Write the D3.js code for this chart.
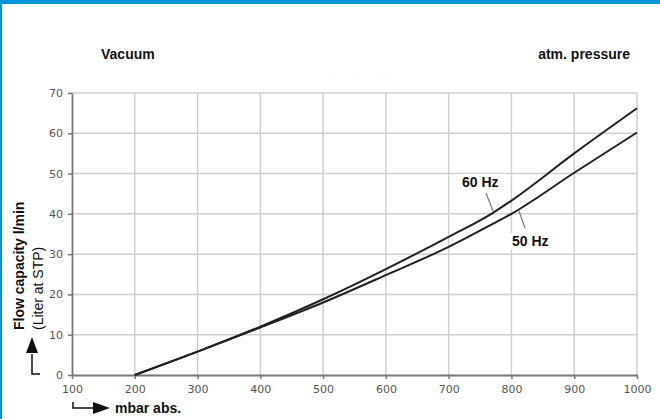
<!DOCTYPE html>
<html>
<head>
<meta charset="utf-8">
<script src="https://cdn.jsdelivr.net/npm/d3@7"></script>
<style>
  html, body { margin: 0; padding: 0; background: #fff; }
  svg { display: block; }
</style>
</head>
<body>
<div id="chart"></div>
<script>
// chart data
var pressure = [200, 300, 400, 500, 600, 700, 770, 800, 900, 1000];
var flow60 = [0, 5.8, 12, 18.8, 26.3, 34.3, 40.2, 43.3, 55, 66.2];
var flow50 = [0, 5.8, 11.8, 18.0, 24.8, 31.8, 37.5, 40, 50.2, 60.2];
var xTicks = [100, 200, 300, 400, 500, 600, 700, 800, 900, 1000];
var yTicks = [0, 10, 20, 30, 40, 50, 60, 70];

var width = 660, height = 419;

var svg = d3.select("#chart")
  .append("svg")
  .attr("width", width)
  .attr("height", height);

// blue frame
svg.append("rect").attr("x", 0).attr("y", 0).attr("width", width).attr("height", 4).attr("fill", "#0095da");
svg.append("rect").attr("x", 0).attr("y", 0).attr("width", 2).attr("height", height).attr("fill", "#0095da");

var x = d3.scaleLinear().domain([100, 1000]).range([72, 637]);
var y = d3.scaleLinear().domain([0, 70]).range([375, 93]);

// headers
svg.append("text").attr("x", 101).attr("y", 59)
  .attr("font-family", "Arial, 'Liberation Sans', sans-serif").attr("font-weight", "bold")
  .attr("font-size", 14).attr("fill", "#111").text("Vacuum");
svg.append("text").attr("x", 630).attr("y", 59).attr("text-anchor", "end")
  .attr("font-family", "Arial, 'Liberation Sans', sans-serif").attr("font-weight", "bold")
  .attr("font-size", 14).attr("fill", "#111").text("atm. pressure");

// faint remnant text above plot
svg.append("text").attr("x", 357).attr("y", 79).attr("text-anchor", "middle")
  .attr("font-family", "Arial, sans-serif").attr("font-size", 5).attr("fill", "#d8d8d8")
  .attr("letter-spacing", 2).text("· · · ·   · · · · · · ·");

// grid
var grid = svg.append("g");
grid.selectAll("line.v").data(xTicks.slice(1)).enter().append("line")
  .attr("x1", function(d) { return x(d); }).attr("x2", function(d) { return x(d); })
  .attr("y1", y(70)).attr("y2", y(0))
  .attr("stroke", "#cfcfcf").attr("stroke-width", 1.5);
grid.selectAll("line.h").data(yTicks.slice(1)).enter().append("line")
  .attr("x1", x(100)).attr("x2", x(1000))
  .attr("y1", function(d) { return y(d); }).attr("y2", function(d) { return y(d); })
  .attr("stroke", "#cfcfcf").attr("stroke-width", 1.5);

// axes
var xAxis = svg.append("g")
  .attr("transform", "translate(0," + y(0) + ")")
  .call(d3.axisBottom(x).tickValues(xTicks).tickFormat(d3.format("d"))
    .tickSize(4).tickSizeOuter(0).tickPadding(6));
var yAxis = svg.append("g")
  .attr("transform", "translate(" + x(100) + ",0)")
  .call(d3.axisLeft(y).tickValues(yTicks).tickSize(4).tickSizeOuter(0).tickPadding(5));

[xAxis, yAxis].forEach(function(a) {
  a.select(".domain").attr("stroke", "#777").attr("stroke-width", 1.8);
  a.selectAll(".tick line").attr("stroke", "#777").attr("stroke-width", 1.5);
  a.selectAll(".tick text")
    .attr("font-family", "'DejaVu Sans', Verdana, sans-serif")
    .attr("font-size", 11).attr("fill", "#555");
});

// clip the last x label like the reference
svg.append("defs").append("clipPath").attr("id", "xclip")
  .append("rect").attr("x", 0).attr("y", -10).attr("width", 652).attr("height", 40);
xAxis.attr("clip-path", "url(#xclip)");

// curves
var line = d3.line()
  .x(function(d) { return x(d[0]); })
  .y(function(d) { return y(d[1]); })
  .curve(d3.curveMonotoneX);

[flow60, flow50].forEach(function(series) {
  svg.append("path")
    .datum(pressure.map(function(p, i) { return [p, series[i]]; }))
    .attr("d", line)
    .attr("fill", "none")
    .attr("stroke", "#222")
    .attr("stroke-width", 2);
});

// series labels with white boxes and leader lines
function seriesLabel(txt, tx, ty, lx1, ly1, lx2, ly2) {
  svg.append("rect").attr("x", tx - 3).attr("y", ty - 13).attr("width", 47).attr("height", 17).attr("fill", "#fff");
  svg.append("line").attr("x1", lx1).attr("y1", ly1).attr("x2", lx2).attr("y2", ly2)
    .attr("stroke", "#777").attr("stroke-width", 1.2);
  svg.append("text").attr("x", tx).attr("y", ty)
    .attr("font-family", "Arial, 'Liberation Sans', sans-serif").attr("font-weight", "bold")
    .attr("font-size", 14).attr("fill", "#111").text(txt);
}
seriesLabel("60 Hz", 462, 187, 486, 193, 493, 211);
seriesLabel("50 Hz", 512, 246, 519, 211, 525, 228);

// y axis title
svg.append("text")
  .attr("transform", "translate(24,330) rotate(-90)")
  .attr("font-family", "Arial, 'Liberation Sans', sans-serif").attr("font-weight", "bold")
  .attr("font-size", 14).attr("fill", "#111").text("Flow capacity l/min");
svg.append("text")
  .attr("transform", "translate(43,330) rotate(-90)")
  .attr("font-family", "Arial, 'Liberation Sans', sans-serif")
  .attr("font-size", 14).attr("fill", "#111").text("(Liter at STP)");

// y arrow
svg.append("path").attr("d", "M32,354 V374 H40").attr("fill", "none").attr("stroke", "#111").attr("stroke-width", 1.5);
svg.append("path").attr("d", "M26,353 L32,337 L38,353 Z").attr("fill", "#111");

// x arrow
svg.append("path").attr("d", "M73,402 V408 H93").attr("fill", "none").attr("stroke", "#111").attr("stroke-width", 1.5);
svg.append("path").attr("d", "M93,402 L110,408 L93,414 Z").attr("fill", "#111");
svg.append("text").attr("x", 115).attr("y", 413)
  .attr("font-family", "Arial, 'Liberation Sans', sans-serif").attr("font-weight", "bold")
  .attr("font-size", 14).attr("fill", "#111").text("mbar abs.");
</script>
</body>
</html>
